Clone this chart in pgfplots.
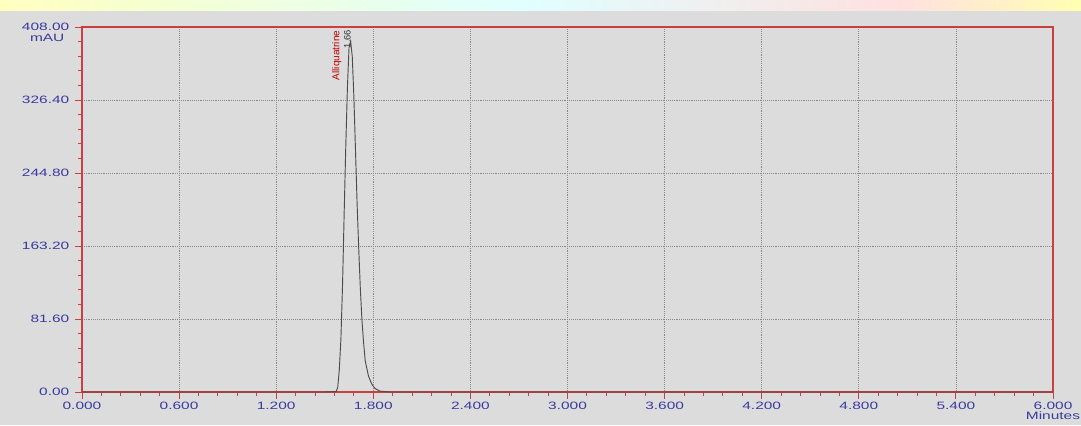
\documentclass[border=0pt]{standalone}
\usepackage{pgfplots}
\pgfplotsset{compat=1.18}
\usetikzlibrary{backgrounds,calc}
\usepackage{fontspec}
\setmainfont{Liberation Sans}
\newfontfamily\tickfont[FakeStretch=1.45]{Liberation Sans}
\definecolor{bg}{HTML}{DCDCDC}
\definecolor{axred}{HTML}{C84040}
\definecolor{tickblue}{HTML}{3A3AA0}
\definecolor{gridgray}{HTML}{8A8A8A}
\begin{document}
\begin{tikzpicture}
\begin{axis}[
  name=ax,
  at={(0,0)}, anchor=south west,
  scale only axis, width=728.25pt, height=273.75pt,
  xmin=0, xmax=6, ymin=0, ymax=408,
  axis line style={axred, line width=0.9pt},
  every tick/.style={axred, line width=0.7pt},
  tick align=outside,
  major tick length=5pt, minor tick length=3pt,
  xtick={0,0.6,1.2,1.8,2.4,3.0,3.6,4.2,4.8,5.4,6.0},
  xticklabels={0.000,0.600,1.200,1.800,2.400,3.000,3.600,4.200,4.800,5.400,6.000},
  ytick={0,81.6,163.2,244.8,326.4,408},
  yticklabels={0.00,81.60,163.20,244.80,326.40,408.00},
  minor x tick num=4, minor y tick num=4,
  xtick pos=bottom, ytick pos=left,
  ticklabel style={font=\tickfont\fontsize{8}{9}\selectfont, text=tickblue},
  xticklabel style={yshift=1pt},
  yticklabel style={xshift=-1pt},
  grid=major,
  major grid style={gridgray, densely dotted, line width=0.5pt},
  clip=false,
]
\addplot[color=black!70, line width=0.7pt] coordinates {
(0.00,0) (1.50,0) (1.57,0.5) (1.58,5) (1.59,25) (1.60,60) (1.61,120) (1.62,200)
(1.63,275) (1.64,340) (1.65,385) (1.66,392) (1.67,375) (1.68,330) (1.69,270)
(1.70,210) (1.71,160) (1.72,115) (1.73,80) (1.74,55) (1.75,35) (1.77,18)
(1.79,9) (1.81,4) (1.84,1) (1.90,0) (6.00,0)
};
\node[rotate=90, anchor=east, text=red!75!black, font=\fontsize{7.5}{8}\selectfont, inner sep=0pt] at (axis cs:1.575,404) {Alliquatrine};
\node[rotate=90, anchor=east, text=black!80, font=\fontsize{7}{8}\selectfont, inner sep=0pt] at (axis cs:1.64,405) {1.66};
\node[anchor=north, text=tickblue, font=\tickfont\fontsize{8}{9}\selectfont, inner sep=0pt] at (axis cs:-0.215,400.5) {mAU};
\node[anchor=north, text=tickblue, font=\tickfont\fontsize{8}{9}\selectfont, inner sep=0pt] at (axis cs:6.0,-21.5) {Minutes};
\end{axis}
\begin{pgfonlayer}{background}
\coordinate (BL) at ($(ax.south west)+(-61.5pt,-24.75pt)$);
\coordinate (TR) at ($(ax.south west)+(749.25pt,294pt)$);
\fill[bg] (BL) rectangle (TR);
\path (BL) -- (TR) coordinate[pos=0] (dummy);
\shade[left color=yellow!25!white, right color=cyan!12!white]
  ($(TR)+(-810.75pt,-8pt)$) rectangle ($(TR)+(-420pt,0pt)$);
\shade[left color=cyan!12!white, right color=red!12!white]
  ($(TR)+(-420pt,-8pt)$) rectangle ($(TR)+(-135pt,0pt)$);
\shade[left color=red!12!white, right color=yellow!30!white]
  ($(TR)+(-135pt,-8pt)$) rectangle (TR);
\end{pgfonlayer}
\pgfresetboundingbox
\useasboundingbox (BL) rectangle (TR);
\end{tikzpicture}
\end{document}
